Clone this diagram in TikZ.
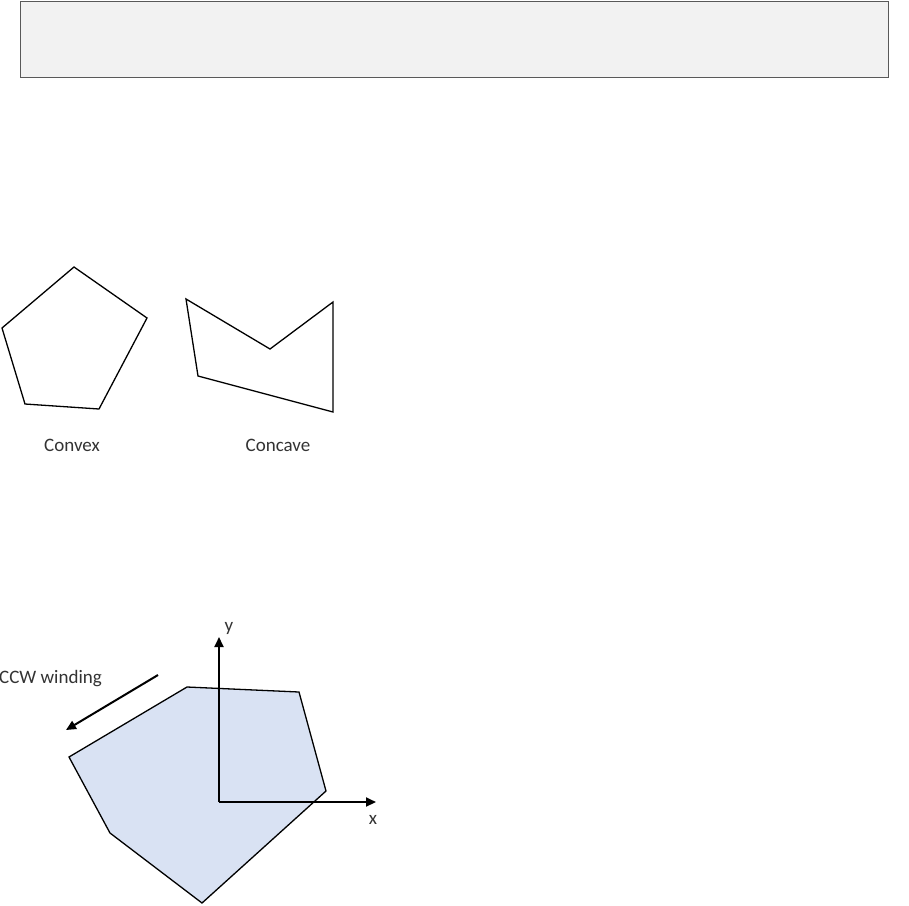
\documentclass[tikz,border=0pt]{standalone}
\usepackage{fontspec}
\setmainfont{Carlito}
\usetikzlibrary{arrows.meta}
\definecolor{boxfill}{HTML}{F2F2F2}
\definecolor{boxline}{HTML}{595959}
\definecolor{polyfill}{HTML}{D9E2F3}
\tikzset{
  poly/.style={draw=black, line width=1.3pt, line join=miter},
  axis/.style={draw=black, line width=2pt, -{Triangle[length=10pt,width=9pt]}},
  lbl/.style={font=\fontsize{19}{22}\selectfont, text=black!80, inner sep=0pt},
}
\begin{document}
\begin{tikzpicture}[x=1pt,y=-1pt]
\useasboundingbox (0,0) rectangle (909,905);
% top box
\node[draw=boxline, fill=boxfill, line width=1.2pt, minimum width=868pt, minimum height=76pt, inner sep=0pt, anchor=north west] (topbox) at (20,0.6) {};
% convex pentagon
\coordinate (p1) at (74,267);
\coordinate (p2) at (147,318);
\coordinate (p3) at (99,409);
\coordinate (p4) at (25,404);
\coordinate (p5) at (2,328);
\draw[poly] (p1) -- (p2) -- (p3) -- (p4) -- (p5) -- cycle;
% concave
\coordinate (c1) at (186,299);
\coordinate (c2) at (270,349);
\coordinate (c3) at (333,302);
\coordinate (c4) at (333,412);
\coordinate (c5) at (198,376);
\draw[poly] (c1) -- (c2) -- (c3) -- (c4) -- (c5) -- cycle;
\node[lbl] (convex) at (72,445) {Convex};
\node[lbl] (concave) at (278,445) {Concave};
% hexagon
\coordinate (h1) at (187,687);
\coordinate (h2) at (299,692);
\coordinate (h3) at (326,791);
\coordinate (h4) at (202,903);
\coordinate (h5) at (110,833);
\coordinate (h6) at (69,757);
\draw[poly, fill=polyfill] (h1) -- (h2) -- (h3) -- (h4) -- (h5) -- (h6) -- cycle;
% axes
\coordinate (o) at (219,802);
\coordinate (ytip) at (219,637);
\coordinate (xtip) at (376,802);
\draw[axis] (o) -- (ytip);
\draw[axis] (o) -- (xtip);
\node[lbl] (ylbl) at (229,628) {y};
\node[lbl] (xlbl) at (373,820) {x};
% CCW arrow
\coordinate (w1) at (158,675);
\coordinate (w2) at (66,730);
\draw[axis] (w1) -- (w2);
\node[lbl, anchor=west] (ccw) at (-1,679) {CCW winding};
\end{tikzpicture}
\end{document}
